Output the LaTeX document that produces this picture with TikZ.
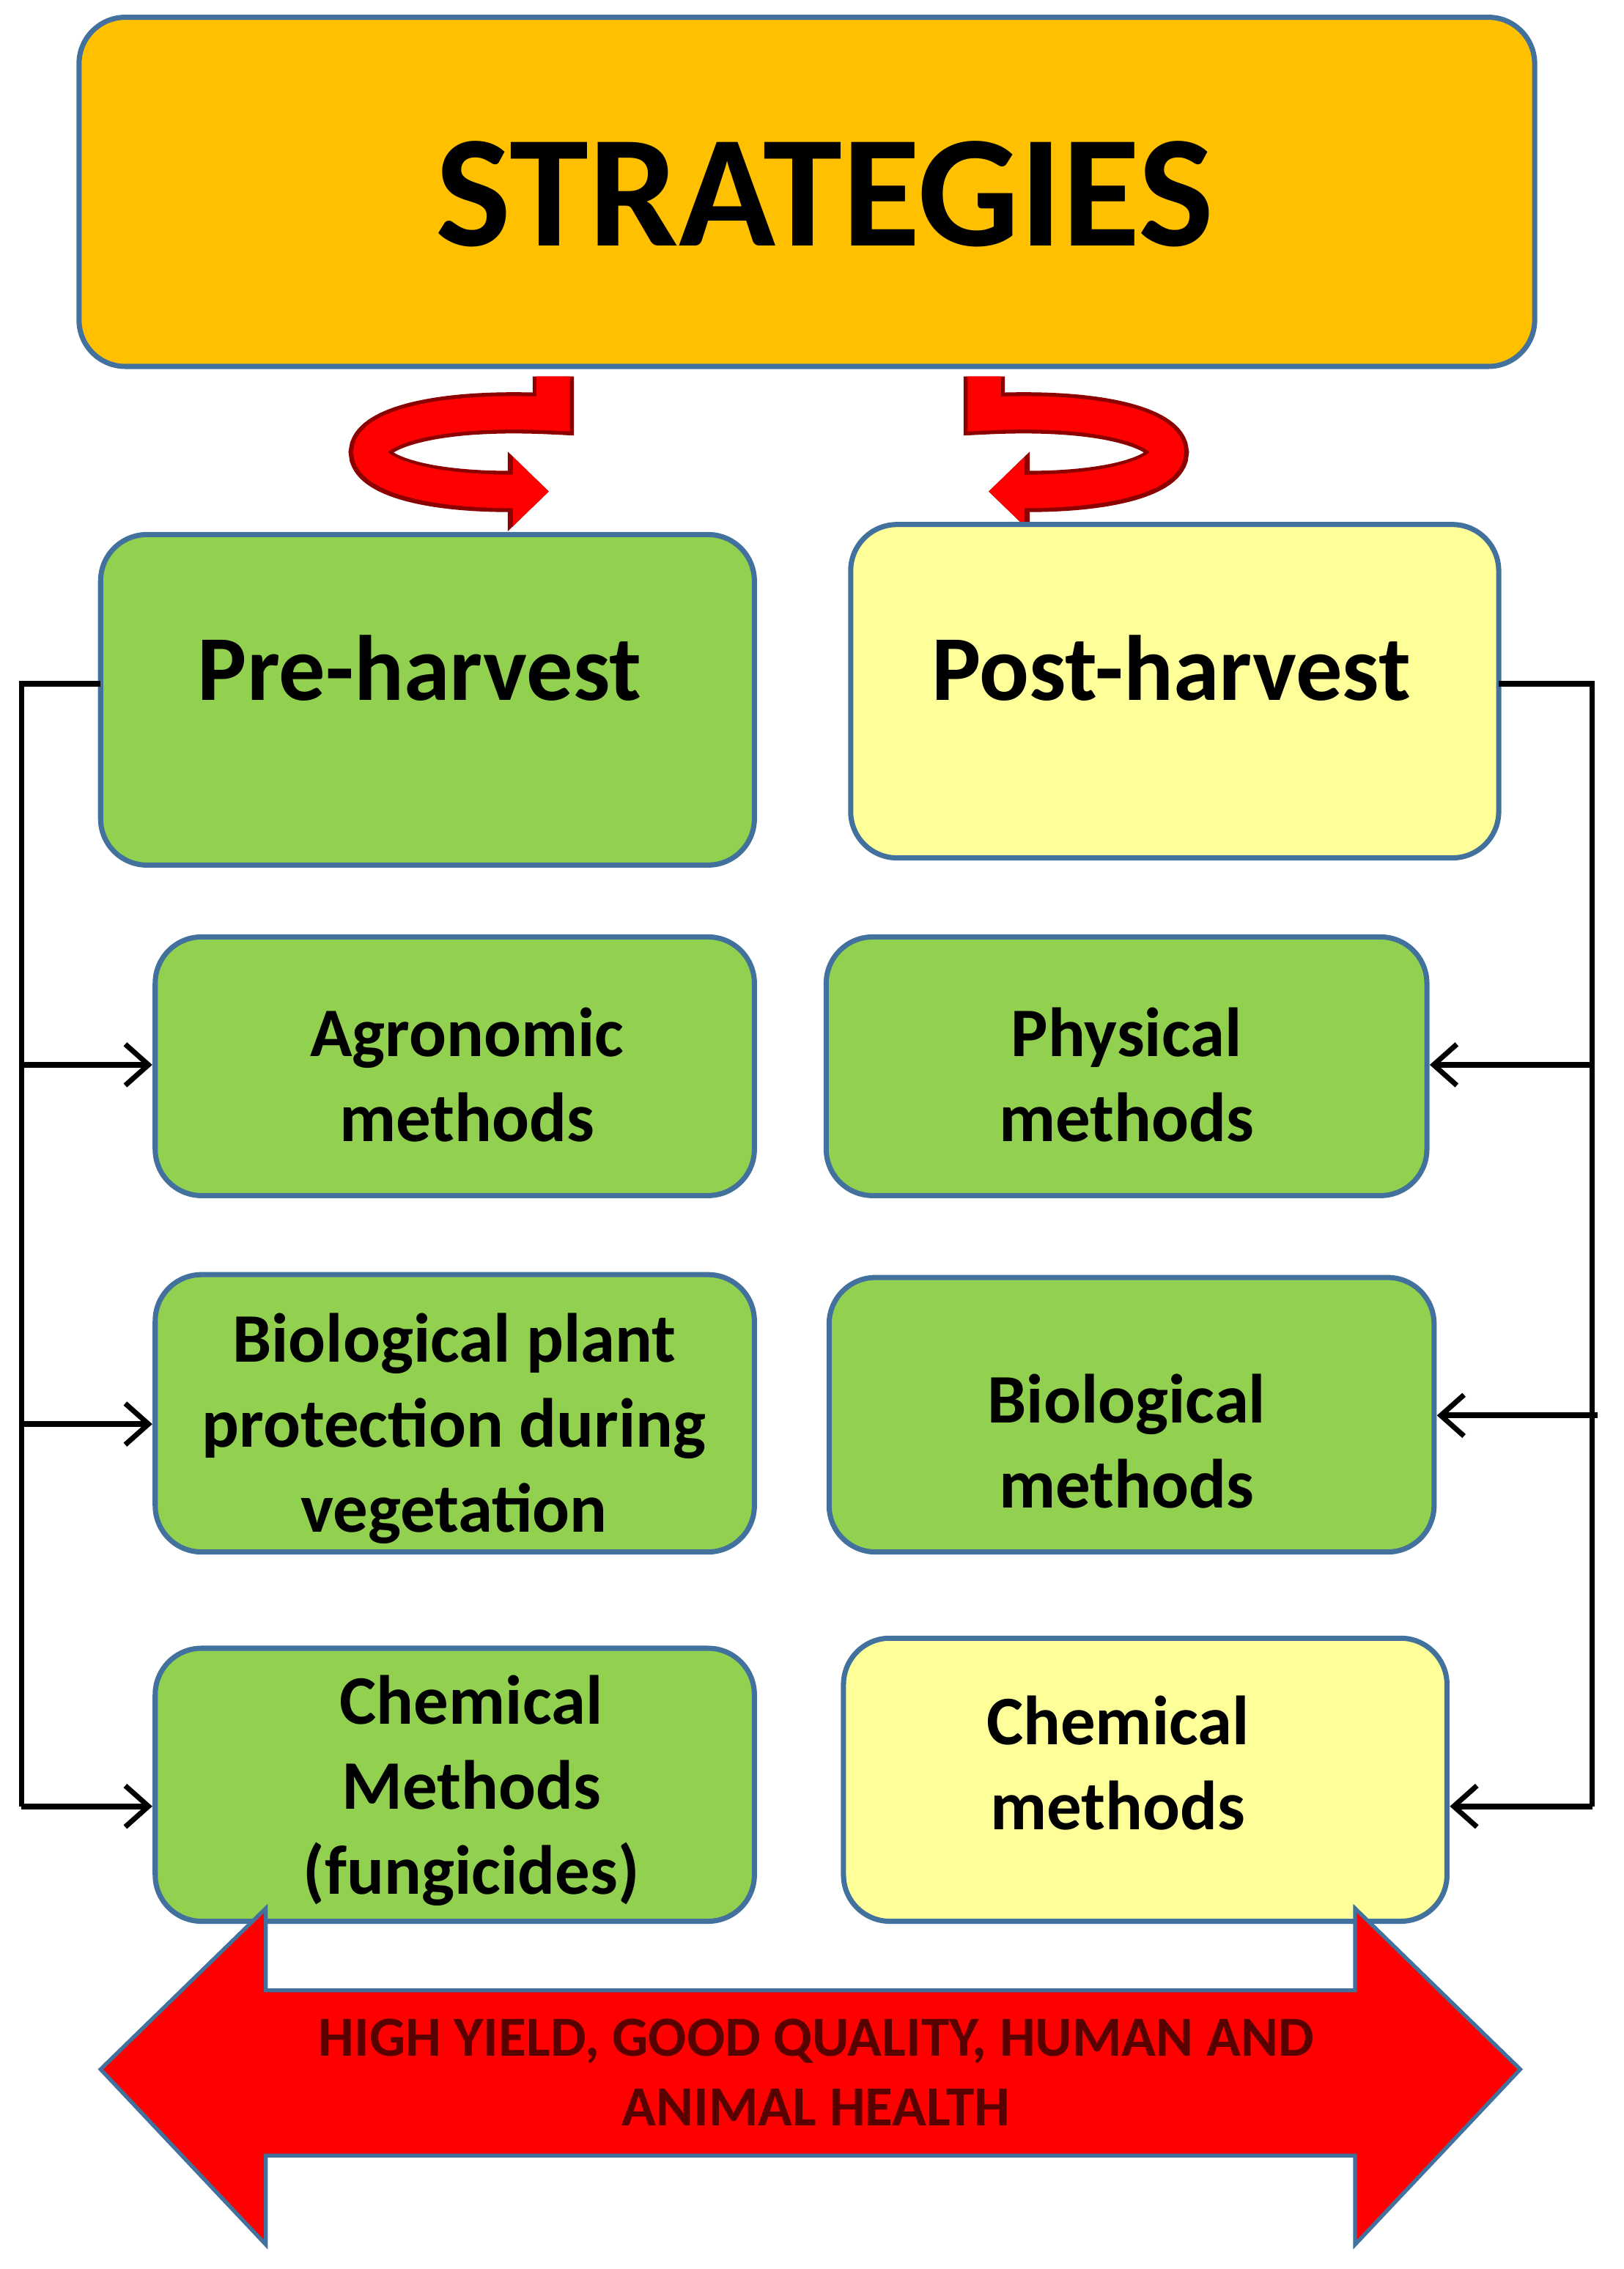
\documentclass[tikz,border=0pt]{standalone}
\usepackage{fontspec}
\setmainfont{Carlito}
\usetikzlibrary{arrows.meta}
\begin{document}
\begin{tikzpicture}[x=0.01961cm,y=-0.01961cm,
  box/.style={draw=bordc,line width=2pt,rounded corners=18pt,font=\bfseries},
  conn/.style={line width=2.2pt,black},
  arr/.style={conn,-{Straight Barb[length=9pt,width=16pt,line width=2pt]}},
  ribbon/.style={line width=13pt,red,-{Triangle[length=14pt,width=26pt]}},
  ribbonb/.style={line width=16pt,red!55!black,-{Triangle[length=16pt,width=30pt]}},
  mtext/.style={font=\bfseries\fontsize{27}{33}\selectfont,align=center}]
\definecolor{bordc}{HTML}{41719C}
\definecolor{gr}{HTML}{92D050}
\definecolor{yl}{HTML}{FFFF99}
\definecolor{org}{HTML}{FFC000}
\useasboundingbox (0,0) rectangle (1130,1579);
\begin{scope}
\clip (0,0) rectangle (1130,1579);
% top
\draw[box,fill=org] (55,12) rectangle (1068,255);
\node (strat) [font=\bfseries\fontsize{62}{70}\selectfont] at (574,135) {STRATEGIES};
% curved arrows
\draw[ribbonb] (385,262) -- (385,288) .. controls (225,280) and (215,342) .. (382,342);
\draw[ribbon] (385,262) -- (385,288) .. controls (225,280) and (215,342) .. (382,342);
\draw[ribbonb] (685,262) -- (685,288) .. controls (845,280) and (855,342) .. (688,342);
\draw[ribbon] (685,262) -- (685,288) .. controls (845,280) and (855,342) .. (688,342);
% level boxes
\draw[box,fill=gr] (70,372) rectangle (525,602);
\node (pre) [font=\bfseries\fontsize{36}{40}\selectfont] at (292,465) {Pre-harvest};
\draw[box,fill=yl] (592,365) rectangle (1043,597);
\node (post) [font=\bfseries\fontsize{36}{40}\selectfont] at (815,465) {Post-harvest};
% methods
\draw[box,fill=gr] (108,652) rectangle (525,832);
\node (agr) [mtext] at (325,748) {Agronomic\\methods};
\draw[box,fill=gr] (575,652) rectangle (993,832);
\node (phy) [mtext] at (784,748) {Physical\\methods};
\draw[box,fill=gr] (108,887) rectangle (525,1080);
\node (bio1) [mtext] at (316,994) {Biological plant\\protection during\\vegetation};
\draw[box,fill=gr] (577,889) rectangle (998,1080);
\node (bio2) [mtext] at (784,1003) {Biological\\methods};
\draw[box,fill=gr] (108,1147) rectangle (525,1337);
\node (chem1) [mtext] at (328,1246) {Chemical\\Methods\\(fungicides)};
\draw[box,fill=yl] (587,1140) rectangle (1007,1337);
\node (chem2) [mtext] at (778,1227) {Chemical\\methods};
% connectors
\coordinate (l0) at (70,476); \coordinate (l1) at (15,476); \coordinate (l2) at (15,1257);
\draw[conn] (l0) -- (l1) -- (l2);
\coordinate (la) at (15,741); \coordinate (lb) at (15,991);
\draw[arr] (la) -- (106,741);
\draw[arr] (lb) -- (106,991);
\draw[arr] (l2) -- (106,1257);
\coordinate (r0) at (1043,476); \coordinate (r1) at (1108,476); \coordinate (r2) at (1108,1257);
\draw[conn] (r0) -- (r1) -- (r2);
\coordinate (ra) at (1108,741); \coordinate (rb) at (1112,985);
\draw[arr] (ra) -- (995,741);
\draw[arr] (rb) -- (1000,985);
\draw[arr] (r2) -- (1009,1257);
% big arrow
\draw[fill=red,draw=bordc,line width=1.5pt] (70,1440) -- (185,1328) -- (185,1385) -- (943,1385) -- (943,1328) -- (1058,1440) -- (943,1562) -- (943,1500) -- (185,1500) -- (185,1562) -- cycle;
\node (goal) [font=\bfseries\fontsize{22}{27}\selectfont,text=red!35!black,align=center] at (568,1442) {HIGH YIELD, GOOD QUALITY, HUMAN AND\\ANIMAL HEALTH};
\end{scope}
\end{tikzpicture}
\end{document}
